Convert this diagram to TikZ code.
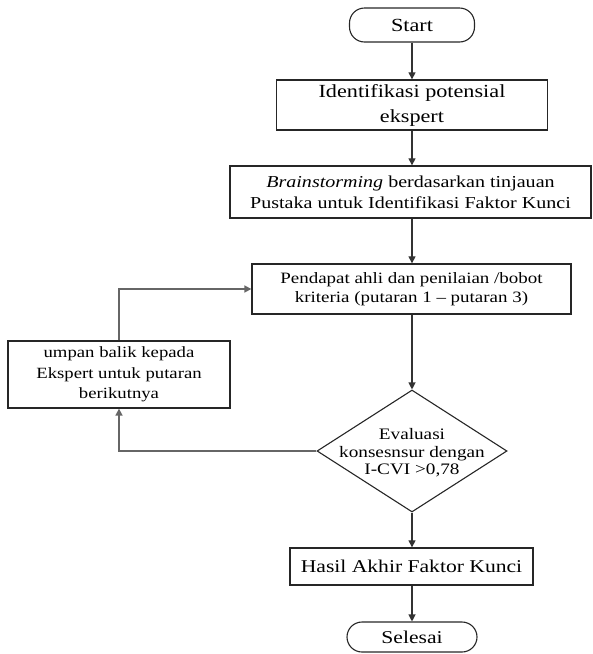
\documentclass[tikz,border=0pt]{standalone}
\usepackage{fontspec}
\setmainfont{Liberation Serif}[FakeStretch=1.2]
\usetikzlibrary{shapes.geometric,arrows.meta}
\newcommand{\fs}[2]{\fontsize{#1}{#2}\selectfont}
\tikzset{
  box/.style={draw=black!85, line width=1.3pt, rectangle, inner sep=0pt, align=center},
  term/.style={draw=black!85, line width=1.1pt, rectangle, rounded corners=15pt, inner sep=0pt, align=center},
  dec/.style={draw=black!85, line width=1.1pt, diamond, inner sep=0pt},
  dectext/.style={inner sep=0pt, align=center},
  conn/.style={draw=black!80, line width=1.1pt, -{Triangle[length=7pt,width=7pt]}},
  back/.style={draw=black!60, line width=1.6pt, -{Triangle[length=7pt,width=7pt]}, color=black!60}
}
\begin{document}
\begin{tikzpicture}[x=1pt,y=-1pt]
\useasboundingbox (0,0) rectangle (593,654);
\node[term, minimum width=125pt, minimum height=34pt, font=\fs{18.5}{22}] (start) at (412,25) {Start};
\node[box, minimum width=271pt, minimum height=50pt, font=\fs{18.5}{25}] (b1) at (412,105) {Identifikasi potensial\\ekspert};
\node[box, minimum width=361pt, minimum height=52pt, font=\fs{16.7}{21}] (b2) at (410.5,192) {\textit{Brainstorming} berdasarkan tinjauan\\Pustaka untuk Identifikasi Faktor Kunci};
\node[box, minimum width=319pt, minimum height=50pt, font=\fs{15.8}{18.5}] (b3) at (411.5,289) {Pendapat ahli dan penilaian /bobot\\kriteria (putaran 1 – putaran 3)};
\node[dec, minimum width=190pt, minimum height=122pt] (d) at (412,451) {};
\node[dectext, font=\fs{16}{17.5}] (dt) at (412,453) {Evaluasi\\konsesnsur dengan\\I-CVI >0,78};
\node[box, minimum width=222pt, minimum height=67pt, font=\fs{15.6}{20.5}] (fb) at (119,374.5) {umpan balik kepada\\Ekspert untuk putaran\\berikutnya};
\node[box, minimum width=243pt, minimum height=37pt, font=\fs{18}{22}] (h) at (411.5,566.5) {Hasil Akhir Faktor Kunci};
\node[term, minimum width=130pt, minimum height=30pt, font=\fs{18}{22}] (end) at (412,637) {Selesai};
\draw[conn] (start.south) -- (start.south |- b1.north);
\draw[conn] (b1.south) -- (b1.south |- b2.north);
\draw[conn] (b2.south -| b1.south) -- (b1.south |- b3.north);
\draw[conn] (b3.south -| d.north) -- (d.north);
\draw[conn] (d.south) -- (d.south |- h.north);
\draw[conn] (h.south -| d.south) -- (d.south |- end.north);
\draw[back] (d.west) -| (fb.south);
\draw[back] (fb.north) |- (b3.west);
\end{tikzpicture}
\end{document}
